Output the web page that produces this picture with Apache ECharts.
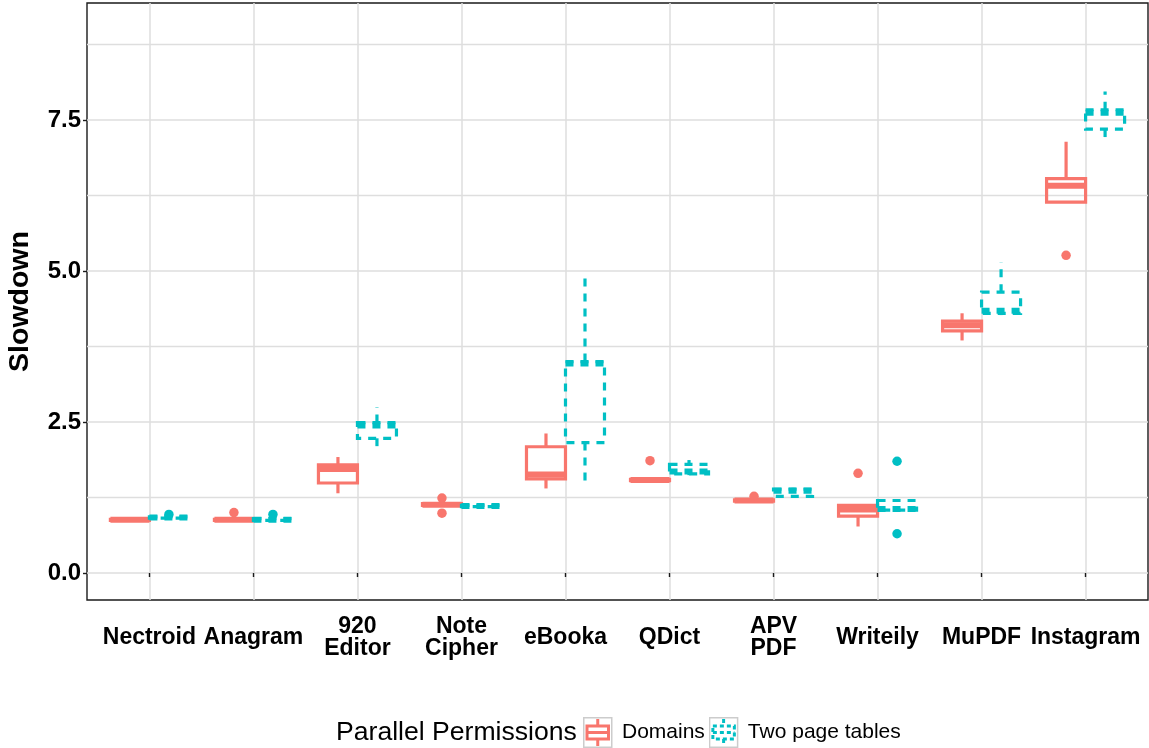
<!DOCTYPE html>
<html>
<head>
<meta charset="utf-8">
<script src="https://cdn.jsdelivr.net/npm/echarts@6/dist/echarts.min.js"></script>
<style>
  html, body { margin: 0; padding: 0; background: #fff; }
  #chart { width: 1149px; height: 748px; }
</style>
</head>
<body>
<div id="chart"></div>
<script>
// ---- data ----
const categories = ['Nectroid', 'Anagram', '920\nEditor', 'Note\nCipher', 'eBooka', 'QDict', 'APV\nPDF', 'Writeily', 'MuPDF', 'Instagram'];
const seriesNames = ['Domains', 'Two page tables'];
// [lowerWhisker, q1, median, q3, upperWhisker] per category
const domainsStats = [
  [0.86, 0.87, 0.88, 0.89, 0.90],
  [0.86, 0.87, 0.88, 0.89, 0.90],
  [1.32, 1.49, 1.72, 1.79, 1.92],
  [1.10, 1.12, 1.13, 1.15, 1.17],
  [1.40, 1.56, 1.63, 2.09, 2.31],
  [1.51, 1.53, 1.54, 1.55, 1.57],
  [1.18, 1.19, 1.20, 1.21, 1.22],
  [0.77, 0.94, 1.05, 1.12, 1.13],
  [3.85, 4.01, 4.10, 4.17, 4.30],
  [6.13, 6.14, 6.41, 6.53, 7.14]
];
const tptStats = [
  [0.90, 0.91, 0.92, 0.93, 0.95],
  [0.86, 0.87, 0.88, 0.90, 0.92],
  [2.10, 2.23, 2.44, 2.49, 2.75],
  [1.09, 1.10, 1.11, 1.12, 1.13],
  [1.50, 2.16, 3.47, 3.50, 4.91],
  [1.62, 1.64, 1.68, 1.80, 1.87],
  [1.25, 1.27, 1.36, 1.39, 1.41],
  [1.02, 1.04, 1.06, 1.20, 1.20],
  [4.27, 4.30, 4.34, 4.65, 5.15],
  [7.11, 7.35, 7.62, 7.67, 7.97]
];
const domainsOutliers = [
  ['Anagram', 1.00],
  ['Note\nCipher', 1.24],
  ['Note\nCipher', 0.99],
  ['QDict', 1.86],
  ['APV\nPDF', 1.27],
  ['Writeily', 1.65],
  ['Instagram', 5.26]
];
const tptOutliers = [
  ['Nectroid', 0.97],
  ['Anagram', 0.97],
  ['Writeily', 1.85],
  ['Writeily', 0.65]
];
const yTicks = [0, 2.5, 5, 7.5];
const yMinorTicks = [1.25, 3.75, 6.25, 8.75];

// ---- styling / layout ----
const COLORS = ['#F8766D', '#00BFC4'];
const DODGE = 0.1875, BOX_W = 0.375;
const FONT = 'Liberation Sans, Arial, Helvetica, sans-serif';
const Y_MIN = -0.447, Y_MAX = 9.437;

const catIdx = name => categories.indexOf(name) + 1;
const boxData = stats => stats.map((s, i) => [i + 1].concat(s));
const outData = (list, off) => list.map(o => [catIdx(o[0]) + off, o[1]]);

function boxRenderer(offset, color, dash) {
  return function (params, api) {
    const x = api.value(0) + offset;
    const pLo = api.coord([x, api.value(1)]);
    const pQ1 = api.coord([x, api.value(2)]);
    const pMed = api.coord([x, api.value(3)]);
    const pQ3 = api.coord([x, api.value(4)]);
    const pHi = api.coord([x, api.value(5)]);
    const hw = api.size([BOX_W, 0])[0] / 2;
    const cx = pMed[0];
    const ls = { stroke: color, lineWidth: 3.2, lineDash: dash, fill: null };
    return {
      type: 'group',
      children: [
        { type: 'line', shape: { x1: cx, y1: pQ3[1], x2: cx, y2: pHi[1] }, style: ls },
        { type: 'line', shape: { x1: cx, y1: pQ1[1], x2: cx, y2: pLo[1] }, style: ls },
        { type: 'rect', shape: { x: cx - hw, y: pQ3[1], width: 2 * hw, height: pQ1[1] - pQ3[1] }, style: ls },
        { type: 'line', shape: { x1: cx - hw, y1: pMed[1], x2: cx + hw, y2: pMed[1] },
          style: { stroke: color, lineWidth: 6, lineDash: dash } }
      ]
    };
  };
}

function keyIcon(color, dashed) {
  const d = dashed ? " stroke-dasharray='4 3'" : '';
  const svg = "<svg xmlns='http://www.w3.org/2000/svg' width='38' height='31' viewBox='0 0 38 31'>" +
    "<rect x='0.75' y='0.75' width='28' height='29.5' fill='#ffffff' stroke='#cccccc' stroke-width='1.5'/>" +
    "<line x1='14.75' y1='2' x2='14.75' y2='9' stroke='" + color + "' stroke-width='3'" + d + "/>" +
    "<line x1='14.75' y1='22' x2='14.75' y2='29' stroke='" + color + "' stroke-width='3'" + d + "/>" +
    "<rect x='4' y='9' width='21.5' height='13' fill='none' stroke='" + color + "' stroke-width='3'" + d + "/>" +
    "<line x1='4' y1='15.5' x2='25.5' y2='15.5' stroke='" + color + "' stroke-width='3'" + d + "/>" +
    "</svg>";
  return 'image://data:image/svg+xml;charset=utf-8,' + encodeURIComponent(svg);
}

const chart = echarts.init(document.getElementById('chart'), null, { renderer: 'canvas' });
chart.setOption({
  animation: false,
  backgroundColor: '#ffffff',
  title: {
    text: 'Parallel Permissions',
    left: 336, top: 719, padding: 0,
    textStyle: { fontFamily: FONT, fontSize: 26.6, fontWeight: 'normal', color: '#000' }
  },
  legend: {
    left: 583, top: 717, padding: 0,
    itemWidth: 38, itemHeight: 31, itemGap: 4,
    textStyle: { fontFamily: FONT, fontSize: 21, color: '#000', padding: [0, 0, 0, -4] },
    data: [
      { name: seriesNames[0], icon: keyIcon(COLORS[0], false) },
      { name: seriesNames[1], icon: keyIcon(COLORS[1], true) }
    ]
  },
  grid: {
    left: 87, right: 1, top: 3, bottom: 148,
    containLabel: false, outerBoundsMode: 'none',
    show: true, borderColor: '#1a1a1a', borderWidth: 1.4, backgroundColor: 'transparent'
  },
  xAxis: {
    type: 'value', min: 0.4, max: 10.6,
    axisLine: { show: false },
    axisTick: { show: true, length: 4, customValues: categories.map((c, i) => i + 1),
      lineStyle: { color: '#1a1a1a', width: 1.4 } },
    axisLabel: {
      customValues: categories.map((c, i) => i + 1),
      formatter: v => categories[Math.round(v) - 1] || '',
      fontFamily: FONT, fontSize: 23, fontWeight: 'bold', color: '#000',
      lineHeight: 22, verticalAlign: 'middle', margin: 38
    },
    splitLine: { show: true, lineStyle: { color: '#dedede', width: 1.5 } }
  },
  yAxis: [
    {
      type: 'value', min: Y_MIN, max: Y_MAX,
      name: 'Slowdown', nameLocation: 'middle', nameRotate: 90, nameGap: 52,
      nameTextStyle: { fontFamily: FONT, fontSize: 28.5, fontWeight: 'bold', color: '#000' },
      axisLine: { show: false },
      axisTick: { show: true, length: 4, customValues: yTicks, lineStyle: { color: '#1a1a1a', width: 1.4 } },
      axisLabel: {
        customValues: yTicks,
        formatter: v => v.toFixed(1),
        fontFamily: FONT, fontSize: 24, fontWeight: 'bold', color: '#000', margin: 6
      },
      splitLine: { show: true, lineStyle: { color: '#dedede', width: 1.5 } }
    },
    {
      type: 'value', min: Y_MIN, max: Y_MAX, position: 'left',
      axisLine: { show: false },
      axisTick: { show: false, customValues: yMinorTicks },
      axisLabel: { show: false, customValues: yMinorTicks },
      splitLine: { show: true, lineStyle: { color: '#dedede', width: 1.3 } }
    }
  ],
  series: [
    {
      name: seriesNames[0], type: 'custom', xAxisIndex: 0, yAxisIndex: 0,
      renderItem: boxRenderer(-DODGE, COLORS[0], null),
      encode: { x: 0, y: [1, 2, 3, 4, 5] },
      itemStyle: { color: COLORS[0] },
      data: boxData(domainsStats), z: 3
    },
    {
      name: seriesNames[1], type: 'custom', xAxisIndex: 0, yAxisIndex: 0,
      renderItem: boxRenderer(DODGE, COLORS[1], [8, 7]),
      encode: { x: 0, y: [1, 2, 3, 4, 5] },
      itemStyle: { color: COLORS[1] },
      data: boxData(tptStats), z: 3
    },
    {
      name: seriesNames[0], type: 'scatter', xAxisIndex: 0, yAxisIndex: 0,
      symbolSize: 9.5, itemStyle: { color: COLORS[0], opacity: 1 },
      data: outData(domainsOutliers, -DODGE), z: 4
    },
    {
      name: seriesNames[1], type: 'scatter', xAxisIndex: 0, yAxisIndex: 0,
      symbolSize: 9.5, itemStyle: { color: COLORS[1], opacity: 1 },
      data: outData(tptOutliers, DODGE), z: 4
    }
  ]
});
</script>
</body>
</html>
